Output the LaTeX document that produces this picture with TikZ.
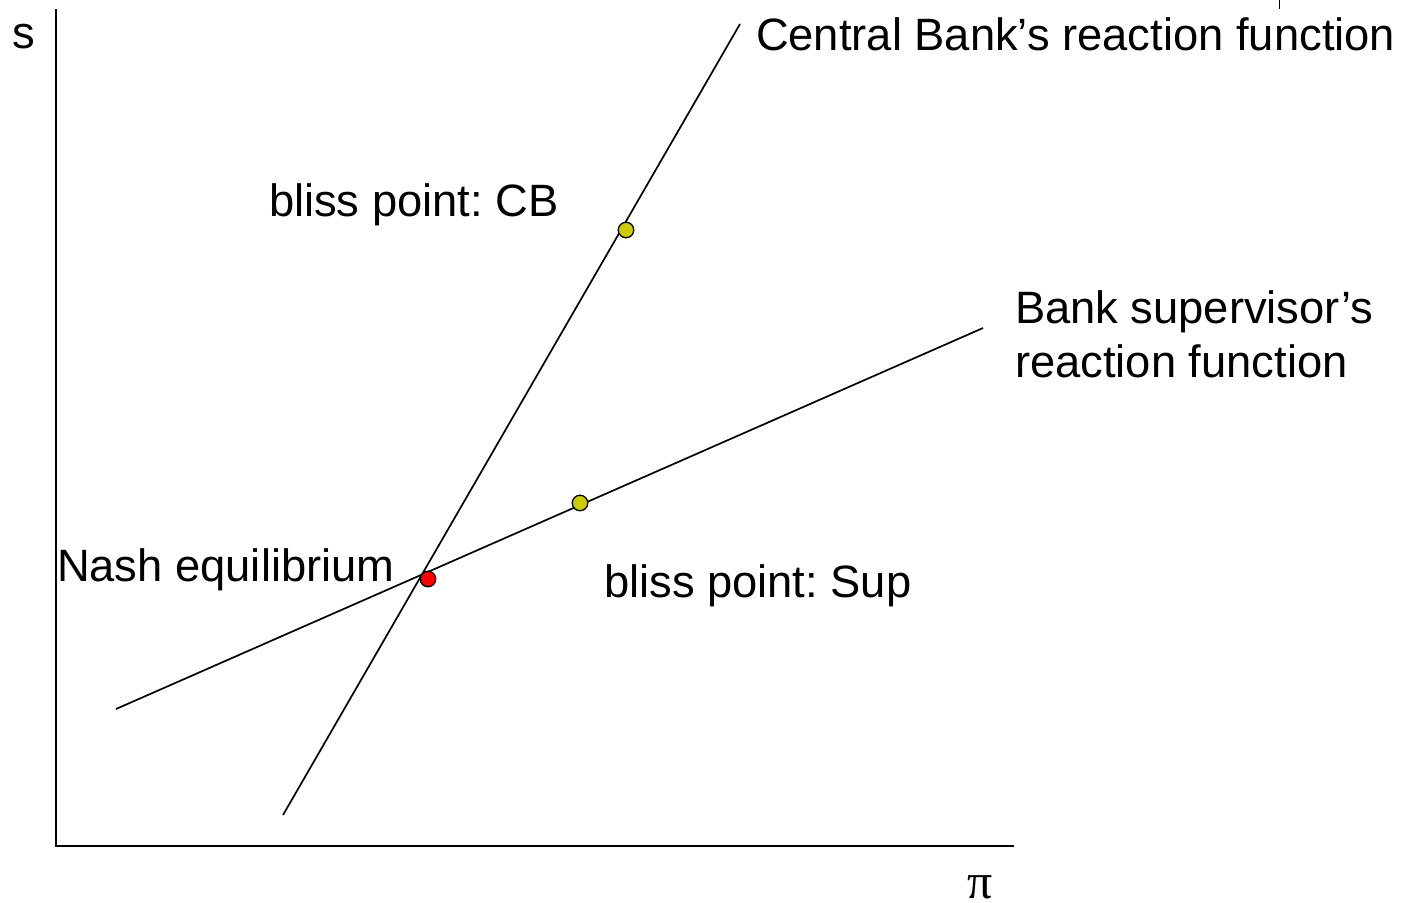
\documentclass[tikz,border=0pt]{standalone}
\usepackage{fontspec}
\setmainfont{Liberation Sans}
\newfontfamily\pifont{Liberation Serif}
\frenchspacing
\begin{document}
\begin{tikzpicture}[x=1bp,y=-1bp,
  lbl/.style={anchor=base west,inner sep=0pt,outer sep=0pt,font=\fontsize{45.5}{54}\selectfont},
  curve/.style={line width=1.7bp,black},
  bliss/.style={circle,draw=black,line width=1.3bp,fill={rgb,255:red,204;green,204;blue,0},minimum size=15.5bp,inner sep=0pt},
  nash/.style={circle,draw=black,line width=1.3bp,fill=red,minimum size=15.5bp,inner sep=0pt}]
\useasboundingbox (0,0) rectangle (1409,902);
% axes
\coordinate (ytop) at (56,9);
\coordinate (origin) at (56,846);
\coordinate (xend) at (1014,846);
\draw[curve,line width=2bp] (ytop) -- (origin) -- (xend);
% stray tick
\coordinate (t1) at (1279,0);
\coordinate (t2) at (1279,9);
\draw[line width=1bp] (t1) -- (t2);
% reaction functions
\coordinate (cbA) at (283,815);
\coordinate (cbB) at (740,24);
\coordinate (supA) at (116,709);
\coordinate (supB) at (983,328);
\draw[curve] (cbA) -- (cbB);
\draw[curve] (supA) -- (supB);
% points
\node[bliss] (pcb) at (626,230) {};
\node[bliss] (psup) at (580,503) {};
\node[nash] (pnash) at (428,579) {};
% labels
\node[lbl] (ls) at (12,48) {s};
\node[lbl] (lcb) at (756,50) {Central Bank’s reaction function};
\node[lbl] (lbcb) at (269,216) {bliss point: CB};
\node[lbl] (lsup1) at (1015,323) {Bank supervisor’s};
\node[lbl] (lsup2) at (1015,377) {reaction function};
\node[lbl] (lnash) at (57,581) {Nash equilibrium};
\node[lbl] (lbsup) at (604,597) {bliss point: Sup};
\node[lbl,font=\pifont\fontsize{50}{56}\selectfont] (lpi) at (967,898) {π};
\end{tikzpicture}
\end{document}
